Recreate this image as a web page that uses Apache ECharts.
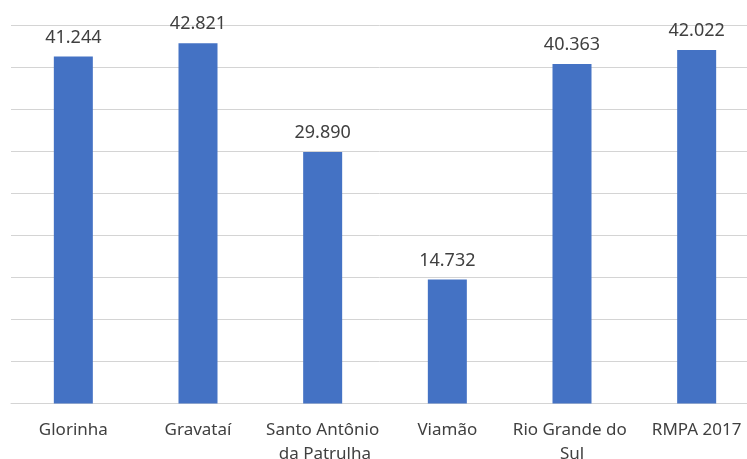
<!DOCTYPE html>
<html>
<head>
<meta charset="utf-8">
<script src="https://cdn.jsdelivr.net/npm/echarts@6/dist/echarts.min.js"></script>
<style>
  html, body { margin: 0; padding: 0; background: #ffffff; }
  #chart { width: 747px; height: 459px; }
</style>
</head>
<body>
<div id="chart"></div>
<script>
// Municipalities / regions on the category axis
const categories = ['Glorinha', 'Gravataí', 'Santo Antônio da Patrulha', 'Viamão', 'Rio Grande do Sul', 'RMPA 2017'];
// Values per category
const values = [41244, 42821, 29890, 14732, 40363, 42022];
// Value axis range (gridlines every 5.000, no tick labels shown)
const axisMin = 0;
const axisMax = 45000;
const axisStep = 5000;

// pt-BR style thousands separator
function fmt(v) {
  return String(v).replace(/\B(?=(\d{3})+(?!\d))/g, '.');
}

const chart = echarts.init(document.getElementById('chart'), null, { renderer: 'canvas' });
chart.setOption({
  animation: false,
  backgroundColor: '#ffffff',
  textStyle: { fontFamily: 'Noto Sans' },
  grid: {
    left: 11, top: 25, width: 748, height: 378.5,
    containLabel: false,
    outerBoundsMode: 'none'
  },
  xAxis: {
    type: 'category',
    data: categories,
    axisLine: { show: true, lineStyle: { color: '#d4d4d4', width: 1 } },
    axisTick: { show: false },
    axisLabel: {
      interval: 0,
      color: '#404040',
      fontSize: 17,
      fontFamily: 'Noto Sans',
      margin: 15,
      lineHeight: 24,
      width: 122,
      overflow: 'break'
    }
  },
  yAxis: {
    type: 'value',
    min: axisMin,
    max: axisMax,
    interval: axisStep,
    axisLine: { show: false },
    axisTick: { show: false },
    axisLabel: { show: false },
    splitLine: { show: true, lineStyle: { color: '#d4d4d4', width: 1 } }
  },
  series: [{
    type: 'bar',
    data: values,
    barWidth: 39,
    itemStyle: { color: '#4472c4' },
    label: {
      show: true,
      position: 'top',
      distance: 10,
      color: '#404040',
      fontSize: 18,
      fontFamily: 'Noto Sans',
      formatter: p => fmt(p.value)
    }
  }]
});
</script>
</body>
</html>
